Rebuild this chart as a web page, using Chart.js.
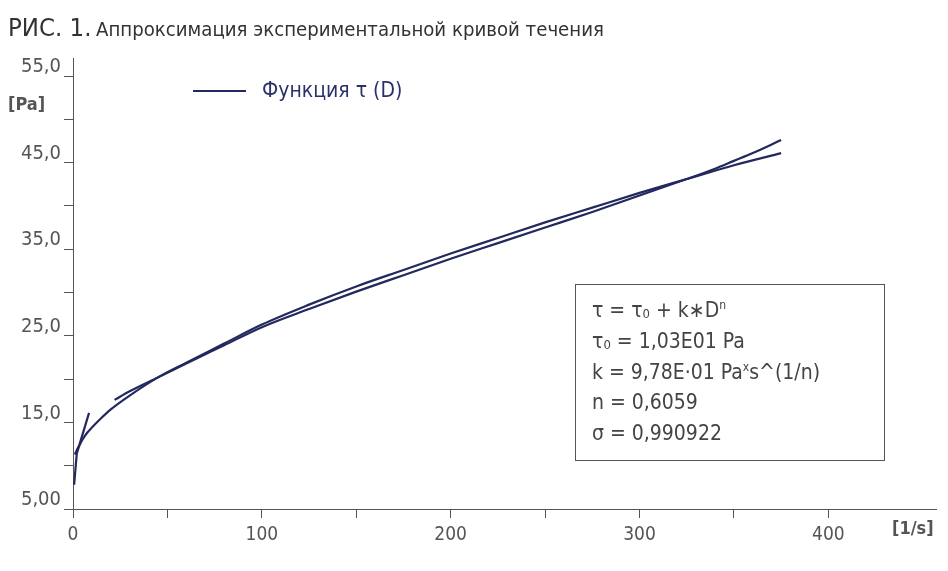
<!DOCTYPE html>
<html><head><meta charset="utf-8">
<script src="https://cdn.jsdelivr.net/npm/chart.js@4.4.0/dist/chart.umd.min.js"></script>
<style>
html,body{margin:0;padding:0;background:#fff;}
#wrap{position:relative;width:948px;height:571px;overflow:hidden;font-family:"Liberation Sans Narrow","DejaVu Sans Condensed",sans-serif;}
#c{position:absolute;left:0;top:0;}
.t{position:absolute;white-space:nowrap;line-height:1;}
#box{position:absolute;left:575px;top:284px;width:308px;height:175px;border:1px solid #555;box-sizing:content-box;color:#444;font-size:21px;}
#box .r{position:absolute;left:16px;height:30px;line-height:30px;white-space:nowrap;}
.sub{font-size:13px;vertical-align:-1px;line-height:0;}
.sup{font-size:12px;vertical-align:8px;line-height:0;}
</style></head><body>
<div id="wrap">
<canvas id="c" width="948" height="571"></canvas>
<div class="t" style="left:8px;top:15px;color:#333;"><span style="font-size:25.5px">РИС. 1.</span> <span style="font-size:20.2px">Аппроксимация экспериментальной кривой течения</span></div>
<div class="t" style="left:8px;top:95px;color:#555;font-weight:bold;font-size:18px;">[Pa]</div>
<div class="t" style="left:892px;top:519px;color:#555;font-weight:bold;font-size:18px;">[1/s]</div>
<div style="position:absolute;left:193px;top:90px;width:53px;height:2px;background:#23295e;"></div>
<div class="t" style="left:262px;top:80px;color:#2a3068;font-size:21px;">Функция τ (D)</div>
<div id="box">
<div class="r" style="top:10px">τ = τ<span class="sub">0</span> + k∗D<span class="sup">n</span></div>
<div class="r" style="top:41px">τ<span class="sub">0</span> = 1,03E01 Pa</div>
<div class="r" style="top:72px">k = 9,78E·01 Pa<span class="sup">x</span>s^(1/n)</div>
<div class="r" style="top:102px">n = 0,6059</div>
<div class="r" style="top:133px">σ = 0,990922</div>
</div>
</div>
<script>
// Shear rate D [1/s] and shear stress tau [Pa]
const fitShear  = [1, 2, 3.5, 5, 7.5, 10, 15, 20, 30, 45, 60, 80, 100, 125, 150, 175, 200, 225, 250, 275, 300, 325, 350, 375];
const fitStress = [11.3, 11.8, 12.4, 13.0, 13.8, 14.4, 15.5, 16.5, 18.1, 20.2, 21.9, 24.1, 26.3, 28.6, 30.7, 32.6, 34.5, 36.3, 38.1, 39.8, 41.5, 43.1, 44.7, 46.1];
const expStartShear  = [0.6, 2, 8.5];
const expStartStress = [7.8, 11.4, 16.1];
const expShear  = [22, 30, 45, 60, 80, 100, 125, 150, 175, 200, 225, 250, 275, 300, 325, 340, 350, 360, 375];
const expStress = [17.6, 18.6, 20.2, 21.8, 23.9, 26.0, 28.1, 30.1, 32.0, 33.9, 35.7, 37.5, 39.3, 41.2, 43.1, 44.3, 45.2, 46.1, 47.6];
const xTickValues = [0, 50, 100, 150, 200, 250, 300, 350, 400];
const yTickValues = [5, 10, 15, 20, 25, 30, 35, 40, 45, 50, 55];

const LINE = '#23295e';
const AX = '#555';
const FONT = '"Liberation Sans Narrow","DejaVu Sans Condensed",sans-serif';
const pts = (xs, ys) => xs.map((x, i) => ({x: x, y: ys[i]}));
const ds = (xs, ys, smooth) => ({
  data: pts(xs, ys), showLine: true, borderColor: LINE, borderWidth: 2.2,
  pointRadius: 0, fill: false, tension: 0,
  cubicInterpolationMode: smooth ? 'monotone' : 'default'
});

new Chart(document.getElementById('c'), {
  type: 'scatter',
  data: { datasets: [
    ds(fitShear, fitStress, true),
    ds(expStartShear, expStartStress, false),
    ds(expShear, expStress, true)
  ]},
  options: {
    responsive: false, animation: false, devicePixelRatio: 1,
    layout: { padding: { left: 0, right: 12, top: 58, bottom: 0 } },
    plugins: { legend: { display: false }, title: { display: false }, tooltip: { enabled: false } },
    scales: {
      x: {
        type: 'linear', min: 0, max: 457, position: 'bottom',
        afterBuildTicks: s => { s.ticks = xTickValues.map(v => ({ value: v })); },
        afterFit: s => { s.height = 62; },
        grid: { display: true, drawOnChartArea: false, drawTicks: true, tickLength: 9, color: AX, lineWidth: 1 },
        border: { display: true, color: AX, width: 1 },
        ticks: { padding: 6, color: AX, font: { family: FONT, size: 19 }, autoSkip: false, maxRotation: 0,
          callback: v => (v % 100 === 0 ? String(v) : '') }
      },
      y: {
        type: 'linear', min: 5, max: 57.08, position: 'left',
        afterBuildTicks: s => { s.ticks = yTickValues.map(v => ({ value: v })); },
        afterFit: s => { s.width = 73; },
        grid: { display: true, drawOnChartArea: false, drawTicks: true, tickLength: 9, color: AX, lineWidth: 1 },
        border: { display: true, color: AX, width: 1 },
        ticks: { padding: 3, labelOffset: -9, color: AX, font: { family: FONT, size: 20 }, autoSkip: false,
          callback: v => (v === 5 ? '5,00' : (v % 10 === 5 ? v.toFixed(1).replace('.', ',') : '')) }
      }
    }
  }
});
</script>
</body></html>
